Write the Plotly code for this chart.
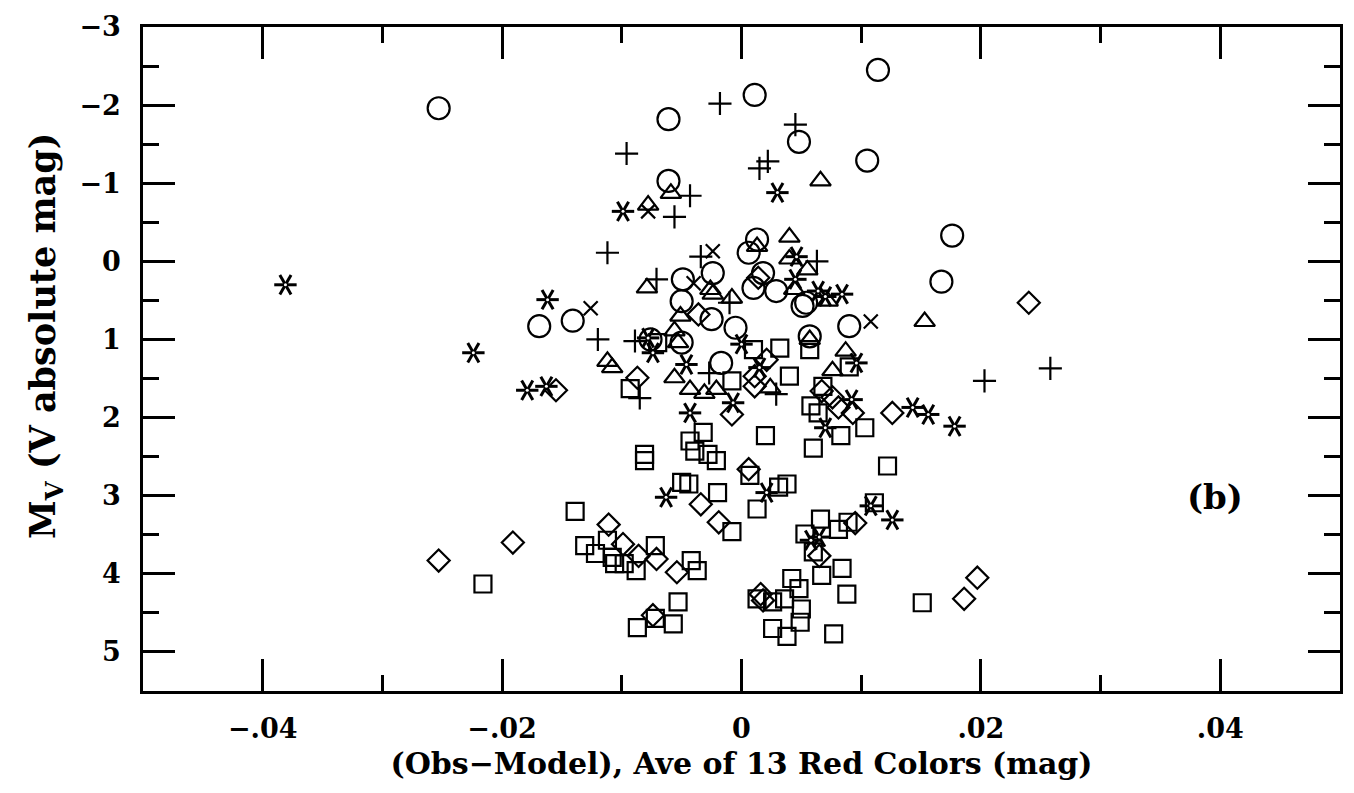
import plotly.graph_objects as go

# (Obs-Model) colour residual vs. absolute magnitude, one list pair per symbol class
circle_x = [-0.0253, 0.0011, -0.0061, -0.0061, 0.0114, 0.0048, 0.0105, 0.0176, 0.0013, 0.0006,
            -0.0049, -0.0024, -0.0050, -0.0025, -0.0005, -0.0169, -0.0141, -0.0076, -0.0050, -0.0017,
            0.0018, 0.0010, 0.0029, 0.0051, 0.0054, 0.0090, 0.0167, 0.0057]
circle_y = [-1.96, -2.13, -1.82, -1.03, -2.45, -1.53, -1.29, -0.33, -0.28, -0.11,
            0.23, 0.15, 0.51, 0.74, 0.85, 0.83, 0.76, 1.00, 1.04, 1.30,
            0.15, 0.34, 0.38, 0.57, 0.53, 0.83, 0.26, 0.96]

plus_x = [-0.0018, -0.0096, -0.0043, -0.0056, 0.0045, 0.0022, 0.0015, -0.0112, -0.0034, -0.0071,
          -0.0010, -0.0120, -0.0089, -0.0085, -0.0027, 0.0063, 0.0029, 0.0203, 0.0258]
plus_y = [-2.02, -1.38, -0.84, -0.57, -1.75, -1.28, -1.19, -0.11, -0.06, 0.23,
          0.53, 1.00, 1.02, 1.75, 1.43, 0.00, 1.70, 1.53, 1.37]

cross_x = [-0.0078, -0.0024, -0.0040, -0.0126, 0.0108]
cross_y = [-0.64, -0.13, 0.28, 0.60, 0.77]

tri_x = [-0.0059, -0.0078, 0.0066, 0.0040, 0.0013, -0.0079, -0.0026, -0.0024, -0.0008, -0.0051,
         -0.0056, -0.0053, -0.0112, -0.0108, -0.0056, -0.0043, -0.0031, -0.0021, 0.0040, 0.0055,
         0.0044, 0.0072, 0.0153, 0.0057, 0.0087, 0.0076, 0.0024]
tri_y = [-0.87, -0.72, -1.03, -0.31, -0.19, 0.34, 0.36, 0.42, 0.47, 0.70,
         0.89, 1.04, 1.28, 1.36, 1.49, 1.64, 1.69, 1.64, -0.03, 0.11,
         0.36, 0.51, 0.77, 1.00, 1.15, 1.40, 1.62]

square_x = [-0.0216, -0.0070, -0.0093, -0.0008, -0.0032, -0.0043, 0.0057, 0.0032, 0.0010, 0.0040,
            0.0090, 0.0068, 0.0058, 0.0064, 0.0103, 0.0083, 0.0020, 0.0060, -0.0039, -0.0028,
            -0.0021, -0.0081, -0.0081, -0.0050, -0.0044, -0.0020, -0.0139, -0.0008, -0.0131, -0.0122,
            -0.0112, -0.0108, -0.0106, -0.0098, -0.0088, -0.0072, -0.0042, -0.0037, -0.0053, -0.0072,
            -0.0087, -0.0057, 0.0122, 0.0007, 0.0031, 0.0038, 0.0013, 0.0111, 0.0066, 0.0081,
            0.0089, 0.0053, 0.0060, 0.0067, 0.0084, 0.0088, 0.0151, 0.0042, 0.0048, 0.0013,
            0.0026, 0.0036, 0.0050, 0.0049, 0.0026, 0.0038, 0.0077]
square_y = [4.13, 1.04, 1.63, 1.53, 2.19, 2.30, 1.13, 1.11, 1.13, 1.47,
            1.35, 1.60, 1.85, 1.94, 2.13, 2.23, 2.23, 2.39, 2.43, 2.47,
            2.55, 2.47, 2.55, 2.83, 2.85, 2.96, 3.20, 3.46, 3.64, 3.74,
            3.57, 3.79, 3.87, 3.87, 3.96, 3.64, 3.83, 3.96, 4.36, 4.57,
            4.69, 4.64, 2.62, 2.74, 2.89, 2.85, 3.17, 3.09, 3.30, 3.43,
            3.34, 3.49, 3.72, 4.02, 3.93, 4.26, 4.37, 4.06, 4.19, 4.32,
            4.36, 4.32, 4.45, 4.62, 4.70, 4.80, 4.77]

diamond_x = [-0.0253, -0.0036, -0.0087, -0.0155, -0.0008, 0.0021, 0.0011, 0.0067, 0.0076, 0.0081,
             0.0093, 0.0126, -0.0034, -0.0019, -0.0191, -0.0111, -0.0099, -0.0086, -0.0071, -0.0054,
             -0.0074, 0.0006, 0.0095, 0.0065, 0.0186, 0.0197, 0.0016, 0.0018, 0.0240, 0.0014,
             0.0011]
diamond_y = [3.83, 0.68, 1.49, 1.65, 1.96, 1.26, 1.47, 1.66, 1.74, 1.87,
             1.94, 1.94, 3.11, 3.34, 3.60, 3.37, 3.62, 3.77, 3.81, 3.98,
             4.53, 2.66, 3.35, 3.77, 4.32, 4.05, 4.26, 4.34, 0.53, 0.21,
             1.60]

star_x = [-0.0381, -0.0224, -0.0099, 0.0030, -0.0162, -0.0078, -0.0074, -0.0179, -0.0163, -0.0046,
          -0.0043, -0.0007, 0.0046, 0.0045, 0.0064, 0.0070, 0.0084, 0.0000, 0.0015, 0.0096,
          0.0092, 0.0070, 0.0143, 0.0156, 0.0178, -0.0063, 0.0021, 0.0108, 0.0126, 0.0058,
          0.0065]
star_y = [0.30, 1.17, -0.64, -0.88, 0.49, 0.98, 1.17, 1.65, 1.60, 1.32,
          1.94, 1.81, -0.06, 0.23, 0.38, 0.45, 0.42, 1.06, 1.36, 1.30,
          1.77, 2.13, 1.87, 1.96, 2.11, 3.02, 2.96, 3.13, 3.31, 3.57,
          3.53]

x_tick_vals = [-0.04, -0.02, 0.0, 0.02, 0.04]
x_tick_text = ["\u2212.04", "\u2212.02", "0", ".02", ".04"]
x_minor_vals = [-0.05, -0.03, -0.01, 0.01, 0.03, 0.05]
y_tick_vals = [-3, -2, -1, 0, 1, 2, 3, 4, 5]
y_tick_text = ["\u22123", "\u22122", "\u22121", "0", "1", "2", "3", "4", "5"]
y_minor_vals = [-2.5, -1.5, -0.5, 0.5, 1.5, 2.5, 3.5, 4.5]

INK = "black"
FONT = "DejaVu Serif"

fig = go.Figure()


def add_open(xs, ys, symbol, size, width=2.2):
    # open symbols take their stroke colour from marker.color
    fig.add_trace(go.Scatter(
        x=xs, y=ys, mode="markers", hoverinfo="skip", showlegend=False,
        marker=dict(symbol=symbol, size=size, color=INK,
                    line=dict(color=INK, width=width)),
    ))


add_open(circle_x, circle_y, "circle-open", 22)
add_open(plus_x, plus_y, "cross-thin-open", 16.5)
add_open(cross_x, cross_y, "x-thin-open", 14)
add_open(tri_x, tri_y, "triangle-up-open", 18)
add_open(square_x, square_y, "square-open", 17)
add_open(diamond_x, diamond_y, "diamond-open", 17)

# six-armed asterisk built from three rotated bars
for ang in (0, 60, 120):
    fig.add_trace(go.Scatter(
        x=star_x, y=star_y, mode="markers", hoverinfo="skip", showlegend=False,
        marker=dict(symbol="line-ew-open", size=16, angle=ang, color=INK,
                    line=dict(color=INK, width=3)),
    ))
fig.add_trace(go.Scatter(
    x=star_x, y=star_y, mode="markers", hoverinfo="skip", showlegend=False,
    marker=dict(symbol="circle", size=3, color="white", line=dict(width=0)),
))

axis_common = dict(
    showline=True, linecolor=INK, linewidth=2.5, mirror="ticks",
    ticks="inside", ticklen=32, tickwidth=2.5, tickcolor=INK,
    showgrid=False, zeroline=False,
    tickfont=dict(family=FONT, size=27, color=INK, weight="bold"),
)

fig.update_xaxes(
    **axis_common,
    range=[-0.05, 0.05], tickmode="array", tickvals=x_tick_vals, ticktext=x_tick_text,
    minor=dict(tickmode="array", tickvals=x_minor_vals, ticks="inside", ticklen=16,
               tickwidth=2.5, tickcolor=INK, showgrid=False),
    ticklabelstandoff=12,
    title=dict(text="(Obs\u2212Model), Ave of 13 Red Colors (mag)",
               font=dict(family=FONT, size=30, color=INK, weight="bold"), standoff=10),
)
fig.update_yaxes(
    **axis_common,
    range=[5.5, -3], tickmode="array", tickvals=y_tick_vals, ticktext=y_tick_text,
    minor=dict(tickmode="array", tickvals=y_minor_vals, ticks="inside", ticklen=16,
               tickwidth=2.5, tickcolor=INK, showgrid=False),
    ticklabelstandoff=14,
)

fig.add_annotation(
    text="M<sub>V</sub> (V absolute mag)", textangle=-90,
    xref="paper", yref="paper", x=-0.0817, y=0.535, showarrow=False,
    xanchor="center", yanchor="middle",
    font=dict(family=FONT, size=35, color=INK, weight="bold"),
)
fig.add_annotation(
    text="(b)", xref="paper", yref="paper", x=0.8955, y=0.292, showarrow=False,
    xanchor="center", yanchor="middle",
    font=dict(family=FONT, size=34, color=INK, weight="bold"),
)

fig.update_layout(
    width=1354, height=793,
    margin=dict(l=143, r=11, t=25, b=102),
    paper_bgcolor="white", plot_bgcolor="white",
)

fig.write_html("out.html")
